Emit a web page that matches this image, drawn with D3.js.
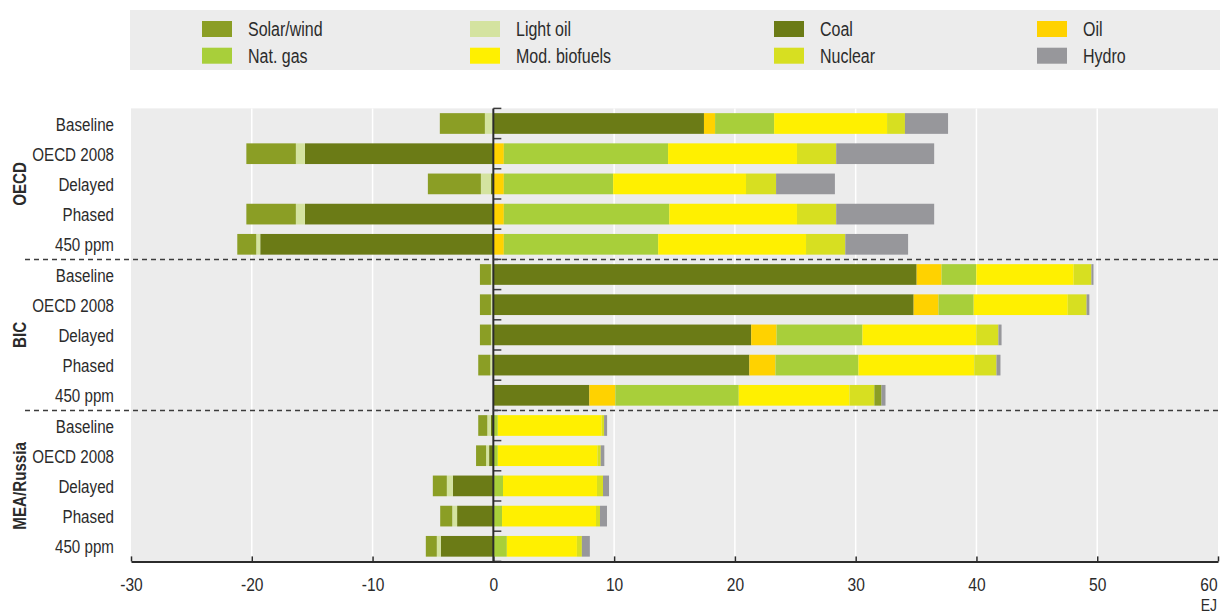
<!DOCTYPE html>
<html>
<head>
<meta charset="utf-8">
<script src="https://cdn.jsdelivr.net/npm/d3@7"></script>
<style>
  body { margin: 0; background: #fff; }
  svg text { font-family: 'Liberation Sans', Arial, sans-serif; fill: #2b2b2b; }
</style>
</head>
<body>
<svg id="chart" width="1220" height="611"></svg>
<script>
// Regions and scenarios (one bar per region/scenario pair)
const regions = ["OECD", "BIC", "MEA/Russia"];
const scenarios = ["Baseline", "OECD 2008", "Delayed", "Phased", "450 ppm"];

// Energy carriers in stacking order (negatives stack left from zero in this order)
const seriesNames = ["Coal", "Oil", "Light oil", "Nat. gas", "Mod. biofuels", "Nuclear", "Solar/wind", "Hydro"];
const seriesColors = ["#6b7b16", "#ffd200", "#d4e3a0", "#a8cf3a", "#fff000", "#d7df21", "#8b9e25", "#97979b"];
const legendOrder = ["Solar/wind", "Light oil", "Coal", "Oil", "Nat. gas", "Mod. biofuels", "Nuclear", "Hydro"];

// Values in EJ, ordered OECD x5, BIC x5, MEA/Russia x5
const coal      = [17.44, -15.6, -0.2, -15.6, -19.3,   35.05, 34.8, 21.35, 21.2, 7.95,   -0.2, -0.35, -3.35, -3.0, -4.35];
const oil       = [0.92, 0.87, 0.87, 0.87, 0.87,       2.06, 2.06, 2.1, 2.16, 2.15,      0, 0, 0, 0, 0];
const lightOil  = [-0.7, -0.75, -0.83, -0.75, -0.33,   -0.2, -0.2, -0.2, -0.25, 0,       -0.3, -0.25, -0.5, -0.4, -0.33];
const natGas    = [4.89, 13.6, 9.05, 13.7, 12.78,      2.88, 2.91, 7.11, 6.87, 10.22,    0.37, 0.37, 0.8, 0.72, 1.12];
const biofuels  = [9.35, 10.67, 11.0, 10.57, 12.24,    8.06, 7.79, 9.42, 9.59, 9.17,     8.6, 8.25, 7.78, 7.78, 5.8];
const nuclear   = [1.48, 3.25, 2.49, 3.25, 3.25,       1.47, 1.56, 1.84, 1.84, 2.06,     0.2, 0.27, 0.5, 0.33, 0.41];
const solarWind = [-3.73, -4.1, -4.39, -4.1, -1.57,    -0.91, -0.91, -0.91, -1.0, 0.59,  -0.75, -0.83, -1.16, -1.0, -0.91];
const hydro     = [3.57, 8.11, 4.87, 8.11, 5.2,        0.17, 0.23, 0.26, 0.33, 0.33,     0.25, 0.3, 0.5, 0.58, 0.66];

const xTicks = [-30, -20, -10, 0, 10, 20, 30, 40, 50, 60];
const unitLabel = "EJ";

const seriesValues = [coal, oil, lightOil, natGas, biofuels, nuclear, solarWind, hydro];
const colorOf = d3.scaleOrdinal().domain(seriesNames).range(seriesColors);

// Condensed lettering: regular face squeezed horizontally
const NARROW = 0.82;

// Row table for the stack layout
const table = [];
regions.forEach((r, ri) => {
  scenarios.forEach((s, si) => {
    const idx = ri * scenarios.length + si;
    const row = { key: r + "|" + s, region: r, scenario: s };
    seriesNames.forEach((name, k) => { row[name] = seriesValues[k][idx]; });
    table.push(row);
  });
});

const stacked = d3.stack().keys(seriesNames).offset(d3.stackOffsetDiverging)(table);

const svg = d3.select("#chart");

function narrowText(parent, px, py, str, size, anchor, extra) {
  const t = parent.append("text")
    .attr("transform", `translate(${px},${py})${extra || ""} scale(${NARROW},1)`)
    .attr("text-anchor", anchor || "start")
    .attr("dominant-baseline", "central")
    .style("font-size", size + "px")
    .text(str);
  return t;
}

const plotTop = 108.4, plotBottom = 561.4;
const x = d3.scaleLinear().domain([-30, 60]).range([131, 1218]);
const y = d3.scaleBand()
  .domain(table.map(d => d.key))
  .range([plotTop, plotBottom])
  .paddingInner(0.315)
  .paddingOuter(0.1575);

// Legend panel
const legend = svg.append("g");
legend.append("rect").attr("x", 130).attr("y", 10).attr("width", 1090).attr("height", 60).attr("fill", "#ececec");
const legendCols = [202, 470, 774, 1037];
const legendRows = [21, 47.7];
legendOrder.forEach((name, i) => {
  const cx = legendCols[i % 4], cy = legendRows[Math.floor(i / 4)];
  legend.append("rect").attr("x", cx).attr("y", cy).attr("width", 30).attr("height", 16).attr("fill", colorOf(name));
  narrowText(legend, cx + 46, cy + 8.5, name, 19.5, "start");
});

// Plot background
svg.append("rect")
  .attr("x", x(-30)).attr("y", plotTop)
  .attr("width", x(60) - x(-30)).attr("height", plotBottom - plotTop)
  .attr("fill", "#ececec");

// Vertical white gridlines
svg.append("g").selectAll("line")
  .data(xTicks.filter(t => t > -30 && t < 60))
  .join("line")
  .attr("x1", d => x(d)).attr("x2", d => x(d))
  .attr("y1", plotTop).attr("y2", plotBottom)
  .attr("stroke", "#ffffff").attr("stroke-width", 1.5);

// Stacked bars
svg.append("g").selectAll("g")
  .data(stacked)
  .join("g")
  .attr("fill", d => colorOf(d.key))
  .selectAll("rect")
  .data(d => d)
  .join("rect")
  .attr("x", d => x(Math.min(d[0], d[1])))
  .attr("width", d => Math.abs(x(d[1]) - x(d[0])))
  .attr("y", d => y(d.data.key))
  .attr("height", y.bandwidth());

// Zero line with small ticks at band boundaries
const boundaries = d3.range(table.length + 1).map(i => plotTop + i * y.step());
svg.append("g").selectAll("line")
  .data(boundaries)
  .join("line")
  .attr("x1", x(0)).attr("x2", x(0) + 8)
  .attr("y1", d => d).attr("y2", d => d)
  .attr("stroke", "#3a3a3a").attr("stroke-width", 1.5);
svg.append("line")
  .attr("x1", x(0)).attr("x2", x(0))
  .attr("y1", plotTop).attr("y2", plotBottom)
  .attr("stroke", "#2b2b2b").attr("stroke-width", 2);

// Dashed separators between regions
[1, 2].forEach(g => {
  const yy = plotTop + g * scenarios.length * y.step();
  svg.append("line")
    .attr("x1", 25).attr("x2", x(60))
    .attr("y1", yy).attr("y2", yy)
    .attr("stroke", "#3c3c3c").attr("stroke-width", 1.5)
    .attr("stroke-dasharray", "5,4");
});

// Scenario labels
const scenLabels = svg.append("g");
table.forEach(d => {
  narrowText(scenLabels, 114, y(d.key) + y.bandwidth() / 2 + 1, d.scenario, 18.5, "end");
});

// Region labels (rotated)
regions.forEach(r => {
  const keys = table.filter(d => d.region === r).map(d => d.key);
  const cy = (y(keys[0]) + y(keys[keys.length - 1]) + y.bandwidth()) / 2;
  narrowText(svg, 19.5, cy, r, 18.5, "middle", " rotate(-90)").style("font-weight", "bold");
});

// Bottom axis
const axis = svg.append("g")
  .attr("transform", `translate(0,${plotBottom})`)
  .call(d3.axisBottom(x).tickValues(xTicks).tickSize(-5).tickSizeOuter(0).tickPadding(16).tickFormat(d => String(d)));
axis.select(".domain").attr("stroke", "#2b2b2b").attr("stroke-width", 2);
axis.selectAll(".tick line").attr("stroke", "#2b2b2b").attr("stroke-width", 1.5);
axis.selectAll(".tick text")
  .style("font-size", "19px")
  .style("font-family", "'Liberation Sans', Arial, sans-serif")
  .attr("fill", "#2b2b2b")
  .attr("transform", `scale(${NARROW},1)`);
axis.selectAll(".tick text").filter(d => d === 60).attr("text-anchor", "end").attr("x", -1);

// Unit label
svg.append("text")
  .attr("transform", `translate(1217,610.5) scale(${NARROW},1)`)
  .attr("text-anchor", "end")
  .style("font-size", "17px")
  .text(unitLabel);
</script>
</body>
</html>
